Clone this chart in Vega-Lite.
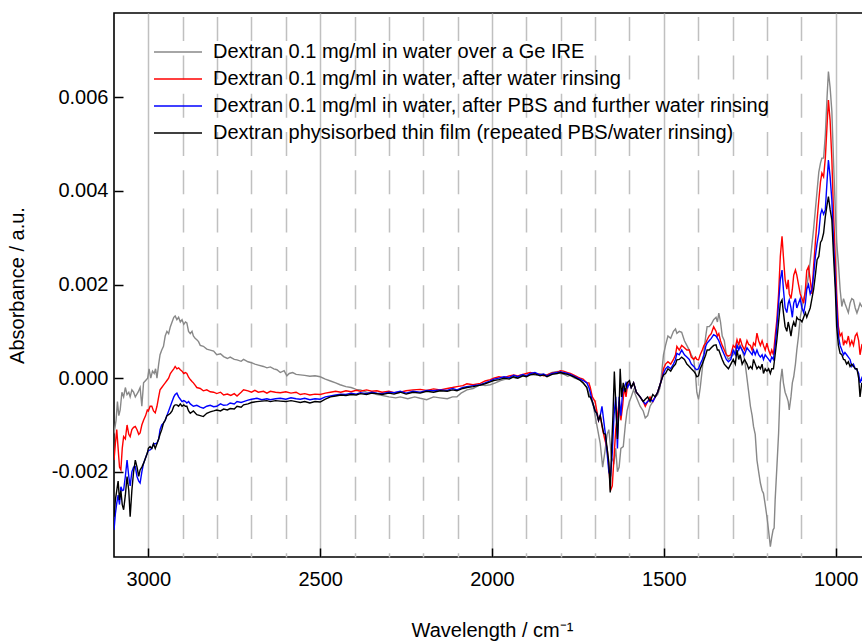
{
"$schema": "https://vega.github.io/schema/vega-lite/v6.json",
"width": 756, "height": 544,
"autosize": {"type": "none"},
"padding": {"left": 114, "top": 13, "right": 0, "bottom": 85},
"config": {"font": "Liberation Sans", "view": {"stroke": "black", "strokeWidth": 1.6}},
"data": {"values": [
{"w":3100,"s":"g","y":-0.00118},{"w":3094,"s":"g","y":-0.0009},{"w":3090,"s":"g","y":-0.0005},{"w":3086,"s":"g","y":-0.0008},{"w":3082,"s":"g","y":-0.00068},{"w":3077,"s":"g","y":-0.0003},{"w":3072,"s":"g","y":-0.0004},{"w":3067,"s":"g","y":-0.0002},{"w":3062,"s":"g","y":-0.00035},{"w":3057,"s":"g","y":-0.0003},{"w":3053,"s":"g","y":-0.0004},{"w":3048,"s":"g","y":-0.00025},{"w":3043,"s":"g","y":-0.0003},{"w":3038,"s":"g","y":-0.0004},{"w":3030,"s":"g","y":-0.0003},{"w":3024,"s":"g","y":-0.0002},{"w":3019,"s":"g","y":-0.0006},{"w":3014,"s":"g","y":-0.0001},{"w":3008,"s":"g","y":-0.00005},{"w":3002,"s":"g","y":0.0},{"w":2998,"s":"g","y":0.0002},{"w":2993,"s":"g","y":0.0},{"w":2988,"s":"g","y":0.00015},{"w":2983,"s":"g","y":0.0001},{"w":2979,"s":"g","y":0.0002},{"w":2975,"s":"g","y":0.0},{"w":2970,"s":"g","y":0.0003},{"w":2966,"s":"g","y":0.0005},{"w":2961,"s":"g","y":0.0006},{"w":2956,"s":"g","y":0.00068},{"w":2951,"s":"g","y":0.0009},{"w":2946,"s":"g","y":0.001},{"w":2941,"s":"g","y":0.00095},{"w":2936,"s":"g","y":0.0011},{"w":2931,"s":"g","y":0.0012},{"w":2926,"s":"g","y":0.0013},{"w":2922,"s":"g","y":0.00133},{"w":2917,"s":"g","y":0.00125},{"w":2912,"s":"g","y":0.0013},{"w":2907,"s":"g","y":0.0012},{"w":2902,"s":"g","y":0.00125},{"w":2897,"s":"g","y":0.00115},{"w":2892,"s":"g","y":0.0012},{"w":2888,"s":"g","y":0.00118},{"w":2883,"s":"g","y":0.001},{"w":2878,"s":"g","y":0.00095},{"w":2873,"s":"g","y":0.001},{"w":2869,"s":"g","y":0.0009},{"w":2864,"s":"g","y":0.00085},{"w":2859,"s":"g","y":0.00082},{"w":2854,"s":"g","y":0.00078},{"w":2849,"s":"g","y":0.0007},{"w":2840,"s":"g","y":0.00068},{"w":2830,"s":"g","y":0.00062},{"w":2820,"s":"g","y":0.0006},{"w":2810,"s":"g","y":0.00058},{"w":2801,"s":"g","y":0.0005},{"w":2790,"s":"g","y":0.00052},{"w":2781,"s":"g","y":0.00046},{"w":2770,"s":"g","y":0.00042},{"w":2762,"s":"g","y":0.00045},{"w":2750,"s":"g","y":0.0004},{"w":2742,"s":"g","y":0.00039},{"w":2730,"s":"g","y":0.00036},{"w":2723,"s":"g","y":0.0004},{"w":2710,"s":"g","y":0.00035},{"w":2700,"s":"g","y":0.00033},{"w":2690,"s":"g","y":0.0003},{"w":2680,"s":"g","y":0.00028},{"w":2665,"s":"g","y":0.00025},{"w":2655,"s":"g","y":0.00022},{"w":2645,"s":"g","y":0.00024},{"w":2635,"s":"g","y":0.0002},{"w":2626,"s":"g","y":0.00018},{"w":2616,"s":"g","y":0.00012},{"w":2605,"s":"g","y":0.00016},{"w":2597,"s":"g","y":0.00005},{"w":2590,"s":"g","y":0.0001},{"w":2580,"s":"g","y":0.00012},{"w":2570,"s":"g","y":0.00008},{"w":2558,"s":"g","y":0.00007},{"w":2545,"s":"g","y":0.00006},{"w":2530,"s":"g","y":0.00004},{"w":2515,"s":"g","y":0.00005},{"w":2500,"s":"g","y":0.00003},{"w":2485,"s":"g","y":-0.00002},{"w":2470,"s":"g","y":-0.00006},{"w":2455,"s":"g","y":-0.0001},{"w":2442,"s":"g","y":-0.00014},{"w":2425,"s":"g","y":-0.00018},{"w":2410,"s":"g","y":-0.0002},{"w":2395,"s":"g","y":-0.00024},{"w":2383,"s":"g","y":-0.00025},{"w":2365,"s":"g","y":-0.0003},{"w":2350,"s":"g","y":-0.00032},{"w":2335,"s":"g","y":-0.00035},{"w":2325,"s":"g","y":-0.00036},{"w":2300,"s":"g","y":-0.0004},{"w":2280,"s":"g","y":-0.00042},{"w":2267,"s":"g","y":-0.0004},{"w":2245,"s":"g","y":-0.00044},{"w":2225,"s":"g","y":-0.0004},{"w":2209,"s":"g","y":-0.00043},{"w":2190,"s":"g","y":-0.00046},{"w":2170,"s":"g","y":-0.0004},{"w":2151,"s":"g","y":-0.00042},{"w":2130,"s":"g","y":-0.00044},{"w":2115,"s":"g","y":-0.0004},{"w":2102,"s":"g","y":-0.0004},{"w":2090,"s":"g","y":-0.00032},{"w":2073,"s":"g","y":-0.00025},{"w":2055,"s":"g","y":-0.00022},{"w":2034,"s":"g","y":-0.00014},{"w":2020,"s":"g","y":-0.00016},{"w":2005,"s":"g","y":-0.00014},{"w":1990,"s":"g","y":-0.0001},{"w":1975,"s":"g","y":-0.00005},{"w":1960,"s":"g","y":-0.00002},{"w":1945,"s":"g","y":0.00003},{"w":1930,"s":"g","y":0.0},{"w":1918,"s":"g","y":0.00006},{"w":1900,"s":"g","y":0.00004},{"w":1889,"s":"g","y":0.00008},{"w":1870,"s":"g","y":0.00006},{"w":1860,"s":"g","y":0.00009},{"w":1840,"s":"g","y":0.00007},{"w":1825,"s":"g","y":0.00012},{"w":1810,"s":"g","y":0.00014},{"w":1801,"s":"g","y":0.0001},{"w":1790,"s":"g","y":0.00008},{"w":1780,"s":"g","y":0.00004},{"w":1772,"s":"g","y":0.00006},{"w":1760,"s":"g","y":0.0},{"w":1750,"s":"g","y":-0.00002},{"w":1743,"s":"g","y":-0.00004},{"w":1735,"s":"g","y":-0.0001},{"w":1724,"s":"g","y":-0.0002},{"w":1714,"s":"g","y":-0.0004},{"w":1705,"s":"g","y":-0.0006},{"w":1695,"s":"g","y":-0.001},{"w":1685,"s":"g","y":-0.0014},{"w":1678,"s":"g","y":-0.0019},{"w":1672,"s":"g","y":-0.0016},{"w":1665,"s":"g","y":-0.0012},{"w":1660,"s":"g","y":-0.0011},{"w":1652,"s":"g","y":-0.0017},{"w":1645,"s":"g","y":-0.0018},{"w":1640,"s":"g","y":-0.0015},{"w":1635,"s":"g","y":-0.002},{"w":1630,"s":"g","y":-0.0019},{"w":1625,"s":"g","y":-0.0015},{"w":1618,"s":"g","y":-0.00146},{"w":1612,"s":"g","y":-0.001},{"w":1607,"s":"g","y":-0.0007},{"w":1600,"s":"g","y":-0.0005},{"w":1595,"s":"g","y":-0.0004},{"w":1588,"s":"g","y":-0.00025},{"w":1580,"s":"g","y":-0.0004},{"w":1569,"s":"g","y":-0.0006},{"w":1560,"s":"g","y":-0.0007},{"w":1554,"s":"g","y":-0.00085},{"w":1547,"s":"g","y":-0.0008},{"w":1540,"s":"g","y":-0.0006},{"w":1532,"s":"g","y":-0.0005},{"w":1525,"s":"g","y":-0.0004},{"w":1518,"s":"g","y":-0.00035},{"w":1511,"s":"g","y":-0.0002},{"w":1505,"s":"g","y":0.0002},{"w":1501,"s":"g","y":0.0005},{"w":1495,"s":"g","y":0.0007},{"w":1488,"s":"g","y":0.0009},{"w":1480,"s":"g","y":0.00085},{"w":1472,"s":"g","y":0.001},{"w":1466,"s":"g","y":0.00105},{"w":1462,"s":"g","y":0.00096},{"w":1455,"s":"g","y":0.001},{"w":1448,"s":"g","y":0.00098},{"w":1440,"s":"g","y":0.0008},{"w":1433,"s":"g","y":0.0007},{"w":1426,"s":"g","y":0.0006},{"w":1420,"s":"g","y":0.0005},{"w":1413,"s":"g","y":0.0004},{"w":1408,"s":"g","y":0.0001},{"w":1404,"s":"g","y":-0.0003},{"w":1399,"s":"g","y":-0.00046},{"w":1394,"s":"g","y":-0.0002},{"w":1388,"s":"g","y":0.0002},{"w":1383,"s":"g","y":0.0006},{"w":1378,"s":"g","y":0.0009},{"w":1374,"s":"g","y":0.0011},{"w":1368,"s":"g","y":0.0011},{"w":1362,"s":"g","y":0.00115},{"w":1355,"s":"g","y":0.00125},{"w":1348,"s":"g","y":0.0013},{"w":1344,"s":"g","y":0.0012},{"w":1340,"s":"g","y":0.00139},{"w":1335,"s":"g","y":0.0012},{"w":1330,"s":"g","y":0.0009},{"w":1324,"s":"g","y":0.0008},{"w":1318,"s":"g","y":0.0005},{"w":1312,"s":"g","y":0.0004},{"w":1305,"s":"g","y":0.00045},{"w":1298,"s":"g","y":0.0005},{"w":1292,"s":"g","y":0.0006},{"w":1287,"s":"g","y":0.0007},{"w":1282,"s":"g","y":0.00065},{"w":1278,"s":"g","y":0.0007},{"w":1272,"s":"g","y":0.0006},{"w":1265,"s":"g","y":0.0004},{"w":1258,"s":"g","y":0.0},{"w":1253,"s":"g","y":-0.0003},{"w":1248,"s":"g","y":-0.0006},{"w":1243,"s":"g","y":-0.0008},{"w":1239,"s":"g","y":-0.00103},{"w":1234,"s":"g","y":-0.0012},{"w":1229,"s":"g","y":-0.00175},{"w":1224,"s":"g","y":-0.002},{"w":1219,"s":"g","y":-0.00224},{"w":1214,"s":"g","y":-0.0024},{"w":1210,"s":"g","y":-0.00246},{"w":1205,"s":"g","y":-0.0027},{"w":1200,"s":"g","y":-0.00296},{"w":1196,"s":"g","y":-0.0032},{"w":1193,"s":"g","y":-0.0034},{"w":1190,"s":"g","y":-0.0036},{"w":1186,"s":"g","y":-0.0034},{"w":1182,"s":"g","y":-0.00324},{"w":1179,"s":"g","y":-0.0032},{"w":1176,"s":"g","y":-0.0026},{"w":1171,"s":"g","y":-0.0019},{"w":1166,"s":"g","y":-0.00118},{"w":1161,"s":"g","y":-0.0001},{"w":1156,"s":"g","y":0.0002},{"w":1152,"s":"g","y":-0.0001},{"w":1147,"s":"g","y":-0.0003},{"w":1142,"s":"g","y":-0.0004},{"w":1138,"s":"g","y":-0.0005},{"w":1135,"s":"g","y":-0.00068},{"w":1130,"s":"g","y":-0.0004},{"w":1126,"s":"g","y":-0.0001},{"w":1122,"s":"g","y":0.00003},{"w":1117,"s":"g","y":0.0003},{"w":1113,"s":"g","y":0.0006},{"w":1108,"s":"g","y":0.0009},{"w":1103,"s":"g","y":0.0013},{"w":1093,"s":"g","y":0.0017},{"w":1085,"s":"g","y":0.0019},{"w":1079,"s":"g","y":0.0022},{"w":1074,"s":"g","y":0.0025},{"w":1064,"s":"g","y":0.0032},{"w":1059,"s":"g","y":0.0036},{"w":1054,"s":"g","y":0.004},{"w":1049,"s":"g","y":0.0044},{"w":1044,"s":"g","y":0.0046},{"w":1040,"s":"g","y":0.0047},{"w":1035,"s":"g","y":0.0047},{"w":1030,"s":"g","y":0.0052},{"w":1025,"s":"g","y":0.006},{"w":1021,"s":"g","y":0.00655},{"w":1016,"s":"g","y":0.0062},{"w":1011,"s":"g","y":0.0057},{"w":1006,"s":"g","y":0.0046},{"w":1001,"s":"g","y":0.0036},{"w":997,"s":"g","y":0.0029},{"w":992,"s":"g","y":0.00246},{"w":987,"s":"g","y":0.0019},{"w":982,"s":"g","y":0.00153},{"w":977,"s":"g","y":0.0017},{"w":973,"s":"g","y":0.0016},{"w":968,"s":"g","y":0.0015},{"w":963,"s":"g","y":0.0014},{"w":958,"s":"g","y":0.0016},{"w":953,"s":"g","y":0.0017},{"w":948,"s":"g","y":0.00167},{"w":943,"s":"g","y":0.0015},{"w":938,"s":"g","y":0.00139},{"w":933,"s":"g","y":0.0015},{"w":929,"s":"g","y":0.0016},{"w":924,"s":"g","y":0.00153},{"w":915,"s":"g","y":0.0015},{"w":905,"s":"g","y":0.0016},{"w":900,"s":"g","y":0.0015},
{"w":3100,"s":"r","y":-0.00175},{"w":3096,"s":"r","y":-0.0014},{"w":3092,"s":"r","y":-0.0011},{"w":3088,"s":"r","y":-0.0015},{"w":3084,"s":"r","y":-0.0019},{"w":3080,"s":"r","y":-0.00196},{"w":3076,"s":"r","y":-0.0015},{"w":3072,"s":"r","y":-0.00125},{"w":3067,"s":"r","y":-0.0013},{"w":3062,"s":"r","y":-0.001},{"w":3057,"s":"r","y":-0.0012},{"w":3053,"s":"r","y":-0.00125},{"w":3048,"s":"r","y":-0.0011},{"w":3043,"s":"r","y":-0.00105},{"w":3038,"s":"r","y":-0.00103},{"w":3033,"s":"r","y":-0.0011},{"w":3028,"s":"r","y":-0.0012},{"w":3024,"s":"r","y":-0.00117},{"w":3019,"s":"r","y":-0.001},{"w":3014,"s":"r","y":-0.0009},{"w":3008,"s":"r","y":-0.0008},{"w":3003,"s":"r","y":-0.00068},{"w":3000,"s":"r","y":-0.0007},{"w":2995,"s":"r","y":-0.0006},{"w":2990,"s":"r","y":-0.0006},{"w":2985,"s":"r","y":-0.0007},{"w":2980,"s":"r","y":-0.00074},{"w":2975,"s":"r","y":-0.0006},{"w":2970,"s":"r","y":-0.0004},{"w":2966,"s":"r","y":-0.00025},{"w":2961,"s":"r","y":-0.0002},{"w":2956,"s":"r","y":-0.00015},{"w":2951,"s":"r","y":-0.0001},{"w":2946,"s":"r","y":-0.00005},{"w":2941,"s":"r","y":0.0},{"w":2936,"s":"r","y":0.0001},{"w":2931,"s":"r","y":0.00015},{"w":2926,"s":"r","y":0.0002},{"w":2922,"s":"r","y":0.00025},{"w":2917,"s":"r","y":0.0002},{"w":2912,"s":"r","y":0.00022},{"w":2907,"s":"r","y":0.00018},{"w":2902,"s":"r","y":0.00015},{"w":2897,"s":"r","y":0.0001},{"w":2892,"s":"r","y":0.00012},{"w":2888,"s":"r","y":0.0001},{"w":2883,"s":"r","y":0.00002},{"w":2878,"s":"r","y":-0.00003},{"w":2873,"s":"r","y":-0.00007},{"w":2869,"s":"r","y":-0.0001},{"w":2864,"s":"r","y":-0.00015},{"w":2859,"s":"r","y":-0.0002},{"w":2854,"s":"r","y":-0.00021},{"w":2849,"s":"r","y":-0.00022},{"w":2840,"s":"r","y":-0.00027},{"w":2830,"s":"r","y":-0.00025},{"w":2820,"s":"r","y":-0.00029},{"w":2810,"s":"r","y":-0.0003},{"w":2801,"s":"r","y":-0.00033},{"w":2790,"s":"r","y":-0.0003},{"w":2781,"s":"r","y":-0.00036},{"w":2770,"s":"r","y":-0.00034},{"w":2760,"s":"r","y":-0.00037},{"w":2750,"s":"r","y":-0.00033},{"w":2742,"s":"r","y":-0.00038},{"w":2730,"s":"r","y":-0.0003},{"w":2723,"s":"r","y":-0.00025},{"w":2710,"s":"r","y":-0.00027},{"w":2700,"s":"r","y":-0.0003},{"w":2690,"s":"r","y":-0.00026},{"w":2680,"s":"r","y":-0.0003},{"w":2665,"s":"r","y":-0.00028},{"w":2655,"s":"r","y":-0.00032},{"w":2645,"s":"r","y":-0.00028},{"w":2630,"s":"r","y":-0.0003},{"w":2616,"s":"r","y":-0.00031},{"w":2600,"s":"r","y":-0.00029},{"w":2585,"s":"r","y":-0.00032},{"w":2570,"s":"r","y":-0.0003},{"w":2558,"s":"r","y":-0.00035},{"w":2545,"s":"r","y":-0.00033},{"w":2530,"s":"r","y":-0.00036},{"w":2515,"s":"r","y":-0.00034},{"w":2500,"s":"r","y":-0.00035},{"w":2485,"s":"r","y":-0.00032},{"w":2470,"s":"r","y":-0.0003},{"w":2455,"s":"r","y":-0.00028},{"w":2440,"s":"r","y":-0.0003},{"w":2425,"s":"r","y":-0.00027},{"w":2410,"s":"r","y":-0.00029},{"w":2395,"s":"r","y":-0.00026},{"w":2383,"s":"r","y":-0.00028},{"w":2365,"s":"r","y":-0.00025},{"w":2350,"s":"r","y":-0.00028},{"w":2335,"s":"r","y":-0.00027},{"w":2320,"s":"r","y":-0.0003},{"w":2300,"s":"r","y":-0.00028},{"w":2285,"s":"r","y":-0.00031},{"w":2267,"s":"r","y":-0.0003},{"w":2250,"s":"r","y":-0.00027},{"w":2230,"s":"r","y":-0.00025},{"w":2209,"s":"r","y":-0.00024},{"w":2190,"s":"r","y":-0.00026},{"w":2170,"s":"r","y":-0.00023},{"w":2151,"s":"r","y":-0.00025},{"w":2130,"s":"r","y":-0.00022},{"w":2115,"s":"r","y":-0.0002},{"w":2102,"s":"r","y":-0.00018},{"w":2085,"s":"r","y":-0.00016},{"w":2073,"s":"r","y":-0.00012},{"w":2055,"s":"r","y":-0.00014},{"w":2034,"s":"r","y":-0.00011},{"w":2020,"s":"r","y":-0.00006},{"w":2005,"s":"r","y":-0.00003},{"w":1995,"s":"r","y":0.0},{"w":1980,"s":"r","y":0.00003},{"w":1965,"s":"r","y":0.00001},{"w":1950,"s":"r","y":0.00005},{"w":1937,"s":"r","y":0.00007},{"w":1925,"s":"r","y":0.00005},{"w":1910,"s":"r","y":0.00008},{"w":1900,"s":"r","y":0.0001},{"w":1889,"s":"r","y":0.00012},{"w":1875,"s":"r","y":0.0001},{"w":1860,"s":"r","y":0.00008},{"w":1850,"s":"r","y":0.00005},{"w":1840,"s":"r","y":0.00007},{"w":1825,"s":"r","y":0.00011},{"w":1810,"s":"r","y":0.00013},{"w":1801,"s":"r","y":0.00016},{"w":1792,"s":"r","y":0.00015},{"w":1780,"s":"r","y":0.00012},{"w":1772,"s":"r","y":0.0001},{"w":1760,"s":"r","y":0.00006},{"w":1750,"s":"r","y":0.00002},{"w":1743,"s":"r","y":0.0},{"w":1735,"s":"r","y":-0.00002},{"w":1724,"s":"r","y":-0.0001},{"w":1718,"s":"r","y":-0.0001},{"w":1714,"s":"r","y":-0.0002},{"w":1708,"s":"r","y":-0.0004},{"w":1700,"s":"r","y":-0.0005},{"w":1695,"s":"r","y":-0.0007},{"w":1690,"s":"r","y":-0.0009},{"w":1685,"s":"r","y":-0.0008},{"w":1678,"s":"r","y":-0.0011},{"w":1672,"s":"r","y":-0.0013},{"w":1665,"s":"r","y":-0.0015},{"w":1660,"s":"r","y":-0.0019},{"w":1655,"s":"r","y":-0.0024},{"w":1650,"s":"r","y":-0.0023},{"w":1645,"s":"r","y":-0.0017},{"w":1640,"s":"r","y":-0.0011},{"w":1635,"s":"r","y":-0.0008},{"w":1630,"s":"r","y":-0.0005},{"w":1625,"s":"r","y":-0.0009},{"w":1620,"s":"r","y":-0.0006},{"w":1615,"s":"r","y":-0.0002},{"w":1610,"s":"r","y":-0.0004},{"w":1605,"s":"r","y":-0.0001},{"w":1600,"s":"r","y":-0.0001},{"w":1595,"s":"r","y":-0.0002},{"w":1588,"s":"r","y":-0.0001},{"w":1580,"s":"r","y":-0.0003},{"w":1569,"s":"r","y":-0.0004},{"w":1560,"s":"r","y":-0.0005},{"w":1554,"s":"r","y":-0.0006},{"w":1547,"s":"r","y":-0.0005},{"w":1540,"s":"r","y":-0.0004},{"w":1532,"s":"r","y":-0.0005},{"w":1525,"s":"r","y":-0.0004},{"w":1518,"s":"r","y":-0.0003},{"w":1511,"s":"r","y":-0.00014},{"w":1505,"s":"r","y":0.0},{"w":1501,"s":"r","y":0.0002},{"w":1495,"s":"r","y":0.0003},{"w":1488,"s":"r","y":0.00035},{"w":1480,"s":"r","y":0.0003},{"w":1472,"s":"r","y":0.0004},{"w":1466,"s":"r","y":0.0005},{"w":1462,"s":"r","y":0.00068},{"w":1455,"s":"r","y":0.0006},{"w":1448,"s":"r","y":0.0007},{"w":1440,"s":"r","y":0.00065},{"w":1433,"s":"r","y":0.0006},{"w":1426,"s":"r","y":0.0006},{"w":1420,"s":"r","y":0.00045},{"w":1413,"s":"r","y":0.0004},{"w":1408,"s":"r","y":0.00045},{"w":1404,"s":"r","y":0.0004},{"w":1399,"s":"r","y":0.00039},{"w":1394,"s":"r","y":0.0005},{"w":1388,"s":"r","y":0.0006},{"w":1383,"s":"r","y":0.0007},{"w":1378,"s":"r","y":0.00075},{"w":1374,"s":"r","y":0.00082},{"w":1368,"s":"r","y":0.0009},{"w":1362,"s":"r","y":0.00095},{"w":1355,"s":"r","y":0.0011},{"w":1348,"s":"r","y":0.001},{"w":1344,"s":"r","y":0.0009},{"w":1340,"s":"r","y":0.00095},{"w":1335,"s":"r","y":0.0008},{"w":1330,"s":"r","y":0.0007},{"w":1324,"s":"r","y":0.0006},{"w":1318,"s":"r","y":0.0005},{"w":1312,"s":"r","y":0.00047},{"w":1305,"s":"r","y":0.0005},{"w":1298,"s":"r","y":0.0007},{"w":1292,"s":"r","y":0.00065},{"w":1287,"s":"r","y":0.00082},{"w":1282,"s":"r","y":0.0007},{"w":1278,"s":"r","y":0.00085},{"w":1272,"s":"r","y":0.0007},{"w":1265,"s":"r","y":0.0006},{"w":1258,"s":"r","y":0.0008},{"w":1253,"s":"r","y":0.00072},{"w":1248,"s":"r","y":0.0007},{"w":1243,"s":"r","y":0.0006},{"w":1239,"s":"r","y":0.00075},{"w":1234,"s":"r","y":0.0007},{"w":1229,"s":"r","y":0.00096},{"w":1224,"s":"r","y":0.0008},{"w":1219,"s":"r","y":0.0007},{"w":1214,"s":"r","y":0.0008},{"w":1210,"s":"r","y":0.0007},{"w":1205,"s":"r","y":0.0006},{"w":1200,"s":"r","y":0.00075},{"w":1195,"s":"r","y":0.0006},{"w":1190,"s":"r","y":0.0005},{"w":1186,"s":"r","y":0.0006},{"w":1181,"s":"r","y":0.0005},{"w":1176,"s":"r","y":0.0009},{"w":1171,"s":"r","y":0.00125},{"w":1166,"s":"r","y":0.0018},{"w":1161,"s":"r","y":0.0026},{"w":1156,"s":"r","y":0.00303},{"w":1152,"s":"r","y":0.0026},{"w":1147,"s":"r","y":0.0021},{"w":1142,"s":"r","y":0.0019},{"w":1138,"s":"r","y":0.0021},{"w":1135,"s":"r","y":0.0018},{"w":1130,"s":"r","y":0.0017},{"w":1126,"s":"r","y":0.0019},{"w":1122,"s":"r","y":0.0022},{"w":1117,"s":"r","y":0.00231},{"w":1113,"s":"r","y":0.0022},{"w":1108,"s":"r","y":0.002},{"w":1103,"s":"r","y":0.0018},{"w":1098,"s":"r","y":0.0017},{"w":1093,"s":"r","y":0.0016},{"w":1088,"s":"r","y":0.0019},{"w":1084,"s":"r","y":0.0023},{"w":1079,"s":"r","y":0.00238},{"w":1074,"s":"r","y":0.0021},{"w":1069,"s":"r","y":0.0018},{"w":1064,"s":"r","y":0.0024},{"w":1059,"s":"r","y":0.0029},{"w":1054,"s":"r","y":0.00338},{"w":1049,"s":"r","y":0.0038},{"w":1044,"s":"r","y":0.0042},{"w":1040,"s":"r","y":0.00438},{"w":1035,"s":"r","y":0.0043},{"w":1030,"s":"r","y":0.0047},{"w":1025,"s":"r","y":0.0054},{"w":1021,"s":"r","y":0.00594},{"w":1016,"s":"r","y":0.0055},{"w":1011,"s":"r","y":0.00466},{"w":1006,"s":"r","y":0.0035},{"w":1001,"s":"r","y":0.00253},{"w":997,"s":"r","y":0.0018},{"w":992,"s":"r","y":0.0011},{"w":987,"s":"r","y":0.0009},{"w":982,"s":"r","y":0.00096},{"w":977,"s":"r","y":0.0007},{"w":973,"s":"r","y":0.0008},{"w":968,"s":"r","y":0.00075},{"w":963,"s":"r","y":0.0009},{"w":958,"s":"r","y":0.0007},{"w":953,"s":"r","y":0.0008},{"w":948,"s":"r","y":0.0007},{"w":943,"s":"r","y":0.0009},{"w":938,"s":"r","y":0.00096},{"w":933,"s":"r","y":0.0008},{"w":929,"s":"r","y":0.0005},{"w":924,"s":"r","y":0.0007},{"w":915,"s":"r","y":0.0006},{"w":900,"s":"r","y":0.0007},
{"w":3100,"s":"b","y":-0.00324},{"w":3096,"s":"b","y":-0.0029},{"w":3092,"s":"b","y":-0.00267},{"w":3088,"s":"b","y":-0.0025},{"w":3084,"s":"b","y":-0.0027},{"w":3080,"s":"b","y":-0.00232},{"w":3076,"s":"b","y":-0.0024},{"w":3072,"s":"b","y":-0.00239},{"w":3067,"s":"b","y":-0.0021},{"w":3062,"s":"b","y":-0.00175},{"w":3057,"s":"b","y":-0.0021},{"w":3053,"s":"b","y":-0.0023},{"w":3048,"s":"b","y":-0.002},{"w":3043,"s":"b","y":-0.0019},{"w":3038,"s":"b","y":-0.00189},{"w":3033,"s":"b","y":-0.0021},{"w":3028,"s":"b","y":-0.0022},{"w":3024,"s":"b","y":-0.00224},{"w":3019,"s":"b","y":-0.002},{"w":3014,"s":"b","y":-0.00182},{"w":3008,"s":"b","y":-0.0017},{"w":3003,"s":"b","y":-0.0016},{"w":3000,"s":"b","y":-0.00155},{"w":2995,"s":"b","y":-0.00153},{"w":2990,"s":"b","y":-0.0015},{"w":2985,"s":"b","y":-0.0014},{"w":2980,"s":"b","y":-0.0014},{"w":2975,"s":"b","y":-0.00139},{"w":2970,"s":"b","y":-0.0013},{"w":2966,"s":"b","y":-0.0011},{"w":2961,"s":"b","y":-0.001},{"w":2956,"s":"b","y":-0.00096},{"w":2951,"s":"b","y":-0.0009},{"w":2946,"s":"b","y":-0.0008},{"w":2941,"s":"b","y":-0.0007},{"w":2936,"s":"b","y":-0.0006},{"w":2931,"s":"b","y":-0.0005},{"w":2926,"s":"b","y":-0.0004},{"w":2922,"s":"b","y":-0.00035},{"w":2917,"s":"b","y":-0.00032},{"w":2912,"s":"b","y":-0.0004},{"w":2907,"s":"b","y":-0.00045},{"w":2902,"s":"b","y":-0.0005},{"w":2897,"s":"b","y":-0.00048},{"w":2892,"s":"b","y":-0.0005},{"w":2888,"s":"b","y":-0.00053},{"w":2883,"s":"b","y":-0.0005},{"w":2878,"s":"b","y":-0.00055},{"w":2869,"s":"b","y":-0.0006},{"w":2859,"s":"b","y":-0.00058},{"w":2849,"s":"b","y":-0.00062},{"w":2840,"s":"b","y":-0.00064},{"w":2830,"s":"b","y":-0.0006},{"w":2820,"s":"b","y":-0.00058},{"w":2810,"s":"b","y":-0.00061},{"w":2801,"s":"b","y":-0.0006},{"w":2790,"s":"b","y":-0.00055},{"w":2781,"s":"b","y":-0.00058},{"w":2770,"s":"b","y":-0.00057},{"w":2762,"s":"b","y":-0.00053},{"w":2750,"s":"b","y":-0.00055},{"w":2742,"s":"b","y":-0.0005},{"w":2730,"s":"b","y":-0.00052},{"w":2723,"s":"b","y":-0.0005},{"w":2710,"s":"b","y":-0.00047},{"w":2700,"s":"b","y":-0.00045},{"w":2684,"s":"b","y":-0.00043},{"w":2670,"s":"b","y":-0.00046},{"w":2655,"s":"b","y":-0.00044},{"w":2645,"s":"b","y":-0.00046},{"w":2630,"s":"b","y":-0.00044},{"w":2616,"s":"b","y":-0.00043},{"w":2600,"s":"b","y":-0.00045},{"w":2585,"s":"b","y":-0.00042},{"w":2570,"s":"b","y":-0.00044},{"w":2558,"s":"b","y":-0.00045},{"w":2545,"s":"b","y":-0.00043},{"w":2530,"s":"b","y":-0.00046},{"w":2515,"s":"b","y":-0.00044},{"w":2500,"s":"b","y":-0.00045},{"w":2485,"s":"b","y":-0.0004},{"w":2470,"s":"b","y":-0.00038},{"w":2455,"s":"b","y":-0.00036},{"w":2440,"s":"b","y":-0.00034},{"w":2425,"s":"b","y":-0.00035},{"w":2410,"s":"b","y":-0.00032},{"w":2395,"s":"b","y":-0.00034},{"w":2383,"s":"b","y":-0.00031},{"w":2365,"s":"b","y":-0.00033},{"w":2350,"s":"b","y":-0.0003},{"w":2335,"s":"b","y":-0.00032},{"w":2320,"s":"b","y":-0.00033},{"w":2300,"s":"b","y":-0.0003},{"w":2285,"s":"b","y":-0.00031},{"w":2267,"s":"b","y":-0.00028},{"w":2250,"s":"b","y":-0.00032},{"w":2230,"s":"b","y":-0.00028},{"w":2209,"s":"b","y":-0.0003},{"w":2190,"s":"b","y":-0.00026},{"w":2170,"s":"b","y":-0.00027},{"w":2151,"s":"b","y":-0.00025},{"w":2130,"s":"b","y":-0.00026},{"w":2115,"s":"b","y":-0.00022},{"w":2102,"s":"b","y":-0.00025},{"w":2085,"s":"b","y":-0.0002},{"w":2073,"s":"b","y":-0.00018},{"w":2055,"s":"b","y":-0.00016},{"w":2034,"s":"b","y":-0.00014},{"w":2020,"s":"b","y":-0.0001},{"w":2005,"s":"b","y":-0.00006},{"w":1995,"s":"b","y":-0.00002},{"w":1980,"s":"b","y":0.0},{"w":1965,"s":"b","y":0.00003},{"w":1950,"s":"b","y":0.00001},{"w":1937,"s":"b","y":0.00006},{"w":1925,"s":"b","y":0.00003},{"w":1910,"s":"b","y":0.00008},{"w":1900,"s":"b","y":0.00005},{"w":1889,"s":"b","y":0.0001},{"w":1875,"s":"b","y":0.00012},{"w":1860,"s":"b","y":0.00007},{"w":1850,"s":"b","y":0.00009},{"w":1840,"s":"b","y":0.00005},{"w":1825,"s":"b","y":0.0001},{"w":1810,"s":"b","y":0.00012},{"w":1801,"s":"b","y":0.00014},{"w":1792,"s":"b","y":0.00012},{"w":1780,"s":"b","y":0.0001},{"w":1772,"s":"b","y":0.00008},{"w":1760,"s":"b","y":0.00004},{"w":1750,"s":"b","y":0.0},{"w":1743,"s":"b","y":-0.00002},{"w":1735,"s":"b","y":-0.00005},{"w":1724,"s":"b","y":-0.0001},{"w":1718,"s":"b","y":-0.0002},{"w":1714,"s":"b","y":-0.0003},{"w":1708,"s":"b","y":-0.0005},{"w":1700,"s":"b","y":-0.0007},{"w":1695,"s":"b","y":-0.00075},{"w":1690,"s":"b","y":-0.0009},{"w":1685,"s":"b","y":-0.0008},{"w":1680,"s":"b","y":-0.0006},{"w":1675,"s":"b","y":-0.0009},{"w":1670,"s":"b","y":-0.0012},{"w":1665,"s":"b","y":-0.0016},{"w":1660,"s":"b","y":-0.002},{"w":1655,"s":"b","y":-0.0021},{"w":1650,"s":"b","y":-0.0016},{"w":1645,"s":"b","y":-0.0008},{"w":1640,"s":"b","y":-0.0004},{"w":1635,"s":"b","y":-0.0015},{"w":1630,"s":"b","y":-0.0004},{"w":1625,"s":"b","y":-0.0008},{"w":1620,"s":"b","y":-0.0003},{"w":1615,"s":"b","y":-0.0002},{"w":1610,"s":"b","y":-0.0001},{"w":1605,"s":"b","y":-0.0002},{"w":1600,"s":"b","y":-0.0001},{"w":1595,"s":"b","y":-0.0002},{"w":1588,"s":"b","y":-0.0001},{"w":1580,"s":"b","y":-0.0003},{"w":1569,"s":"b","y":-0.0004},{"w":1560,"s":"b","y":-0.0005},{"w":1554,"s":"b","y":-0.00055},{"w":1547,"s":"b","y":-0.0005},{"w":1540,"s":"b","y":-0.00046},{"w":1532,"s":"b","y":-0.0005},{"w":1525,"s":"b","y":-0.0004},{"w":1518,"s":"b","y":-0.0003},{"w":1511,"s":"b","y":-0.00014},{"w":1505,"s":"b","y":0.0},{"w":1501,"s":"b","y":0.0001},{"w":1495,"s":"b","y":0.0002},{"w":1488,"s":"b","y":0.00025},{"w":1480,"s":"b","y":0.0002},{"w":1472,"s":"b","y":0.0003},{"w":1466,"s":"b","y":0.0004},{"w":1462,"s":"b","y":0.00053},{"w":1455,"s":"b","y":0.0005},{"w":1448,"s":"b","y":0.0006},{"w":1440,"s":"b","y":0.0005},{"w":1433,"s":"b","y":0.00045},{"w":1426,"s":"b","y":0.0004},{"w":1420,"s":"b","y":0.0003},{"w":1413,"s":"b","y":0.00025},{"w":1408,"s":"b","y":0.0002},{"w":1404,"s":"b","y":0.00018},{"w":1399,"s":"b","y":0.0002},{"w":1394,"s":"b","y":0.0003},{"w":1388,"s":"b","y":0.0004},{"w":1383,"s":"b","y":0.0005},{"w":1378,"s":"b","y":0.00068},{"w":1374,"s":"b","y":0.00075},{"w":1368,"s":"b","y":0.0008},{"w":1362,"s":"b","y":0.00085},{"w":1355,"s":"b","y":0.00093},{"w":1348,"s":"b","y":0.0009},{"w":1344,"s":"b","y":0.00085},{"w":1340,"s":"b","y":0.0008},{"w":1335,"s":"b","y":0.0007},{"w":1330,"s":"b","y":0.0006},{"w":1324,"s":"b","y":0.0005},{"w":1318,"s":"b","y":0.0004},{"w":1312,"s":"b","y":0.00035},{"w":1305,"s":"b","y":0.0004},{"w":1298,"s":"b","y":0.0006},{"w":1292,"s":"b","y":0.0005},{"w":1287,"s":"b","y":0.0007},{"w":1282,"s":"b","y":0.0006},{"w":1278,"s":"b","y":0.00068},{"w":1272,"s":"b","y":0.0006},{"w":1265,"s":"b","y":0.0005},{"w":1258,"s":"b","y":0.00065},{"w":1253,"s":"b","y":0.0006},{"w":1248,"s":"b","y":0.00055},{"w":1243,"s":"b","y":0.0005},{"w":1239,"s":"b","y":0.0006},{"w":1234,"s":"b","y":0.0005},{"w":1229,"s":"b","y":0.0006},{"w":1224,"s":"b","y":0.0005},{"w":1219,"s":"b","y":0.00045},{"w":1214,"s":"b","y":0.0005},{"w":1210,"s":"b","y":0.0004},{"w":1205,"s":"b","y":0.0005},{"w":1200,"s":"b","y":0.00045},{"w":1195,"s":"b","y":0.0004},{"w":1190,"s":"b","y":0.00035},{"w":1186,"s":"b","y":0.00045},{"w":1181,"s":"b","y":0.0004},{"w":1176,"s":"b","y":0.0007},{"w":1171,"s":"b","y":0.0011},{"w":1166,"s":"b","y":0.0016},{"w":1161,"s":"b","y":0.0021},{"w":1156,"s":"b","y":0.00231},{"w":1152,"s":"b","y":0.0019},{"w":1147,"s":"b","y":0.0015},{"w":1142,"s":"b","y":0.0014},{"w":1138,"s":"b","y":0.0016},{"w":1135,"s":"b","y":0.00167},{"w":1130,"s":"b","y":0.0015},{"w":1126,"s":"b","y":0.0013},{"w":1122,"s":"b","y":0.0016},{"w":1117,"s":"b","y":0.0017},{"w":1113,"s":"b","y":0.0015},{"w":1108,"s":"b","y":0.0016},{"w":1103,"s":"b","y":0.0017},{"w":1098,"s":"b","y":0.0015},{"w":1093,"s":"b","y":0.0014},{"w":1088,"s":"b","y":0.0016},{"w":1084,"s":"b","y":0.0019},{"w":1079,"s":"b","y":0.002},{"w":1074,"s":"b","y":0.0018},{"w":1069,"s":"b","y":0.0019},{"w":1064,"s":"b","y":0.0022},{"w":1059,"s":"b","y":0.0026},{"w":1054,"s":"b","y":0.00288},{"w":1049,"s":"b","y":0.0031},{"w":1044,"s":"b","y":0.0035},{"w":1040,"s":"b","y":0.0036},{"w":1035,"s":"b","y":0.0035},{"w":1030,"s":"b","y":0.0036},{"w":1025,"s":"b","y":0.0042},{"w":1021,"s":"b","y":0.00466},{"w":1016,"s":"b","y":0.0043},{"w":1011,"s":"b","y":0.0038},{"w":1006,"s":"b","y":0.0029},{"w":1001,"s":"b","y":0.0021},{"w":997,"s":"b","y":0.00153},{"w":992,"s":"b","y":0.0009},{"w":987,"s":"b","y":0.0007},{"w":982,"s":"b","y":0.0006},{"w":977,"s":"b","y":0.0005},{"w":973,"s":"b","y":0.00055},{"w":968,"s":"b","y":0.0005},{"w":963,"s":"b","y":0.00045},{"w":958,"s":"b","y":0.0004},{"w":953,"s":"b","y":0.00025},{"w":948,"s":"b","y":0.0003},{"w":943,"s":"b","y":0.0002},{"w":938,"s":"b","y":0.00018},{"w":933,"s":"b","y":0.0001},{"w":929,"s":"b","y":-0.0001},{"w":924,"s":"b","y":0.0},{"w":915,"s":"b","y":-0.0002},{"w":900,"s":"b","y":-0.0001},
{"w":3100,"s":"k","y":-0.00296},{"w":3096,"s":"k","y":-0.0026},{"w":3092,"s":"k","y":-0.0024},{"w":3088,"s":"k","y":-0.0022},{"w":3084,"s":"k","y":-0.0026},{"w":3080,"s":"k","y":-0.0024},{"w":3076,"s":"k","y":-0.0027},{"w":3072,"s":"k","y":-0.00281},{"w":3067,"s":"k","y":-0.0025},{"w":3062,"s":"k","y":-0.0021},{"w":3057,"s":"k","y":-0.0024},{"w":3053,"s":"k","y":-0.00296},{"w":3048,"s":"k","y":-0.0024},{"w":3043,"s":"k","y":-0.002},{"w":3038,"s":"k","y":-0.00175},{"w":3033,"s":"k","y":-0.0019},{"w":3028,"s":"k","y":-0.0021},{"w":3024,"s":"k","y":-0.00196},{"w":3019,"s":"k","y":-0.0019},{"w":3014,"s":"k","y":-0.00182},{"w":3008,"s":"k","y":-0.0017},{"w":3003,"s":"k","y":-0.0016},{"w":3000,"s":"k","y":-0.0015},{"w":2995,"s":"k","y":-0.00146},{"w":2990,"s":"k","y":-0.0015},{"w":2985,"s":"k","y":-0.0014},{"w":2980,"s":"k","y":-0.0015},{"w":2975,"s":"k","y":-0.0014},{"w":2970,"s":"k","y":-0.0013},{"w":2966,"s":"k","y":-0.0012},{"w":2961,"s":"k","y":-0.0011},{"w":2956,"s":"k","y":-0.00096},{"w":2951,"s":"k","y":-0.0009},{"w":2946,"s":"k","y":-0.0008},{"w":2941,"s":"k","y":-0.00078},{"w":2936,"s":"k","y":-0.00075},{"w":2931,"s":"k","y":-0.0007},{"w":2926,"s":"k","y":-0.0006},{"w":2922,"s":"k","y":-0.00057},{"w":2917,"s":"k","y":-0.00057},{"w":2912,"s":"k","y":-0.0006},{"w":2907,"s":"k","y":-0.00055},{"w":2902,"s":"k","y":-0.0006},{"w":2897,"s":"k","y":-0.00057},{"w":2892,"s":"k","y":-0.0006},{"w":2888,"s":"k","y":-0.0006},{"w":2883,"s":"k","y":-0.0007},{"w":2878,"s":"k","y":-0.00075},{"w":2869,"s":"k","y":-0.0007},{"w":2859,"s":"k","y":-0.00078},{"w":2849,"s":"k","y":-0.0008},{"w":2840,"s":"k","y":-0.00082},{"w":2830,"s":"k","y":-0.00075},{"w":2820,"s":"k","y":-0.00072},{"w":2810,"s":"k","y":-0.0007},{"w":2801,"s":"k","y":-0.00068},{"w":2790,"s":"k","y":-0.0007},{"w":2781,"s":"k","y":-0.00066},{"w":2770,"s":"k","y":-0.00068},{"w":2762,"s":"k","y":-0.00065},{"w":2750,"s":"k","y":-0.00066},{"w":2742,"s":"k","y":-0.0006},{"w":2730,"s":"k","y":-0.00062},{"w":2723,"s":"k","y":-0.00057},{"w":2710,"s":"k","y":-0.00055},{"w":2700,"s":"k","y":-0.00052},{"w":2684,"s":"k","y":-0.0005},{"w":2670,"s":"k","y":-0.00049},{"w":2655,"s":"k","y":-0.00048},{"w":2645,"s":"k","y":-0.0005},{"w":2630,"s":"k","y":-0.00048},{"w":2616,"s":"k","y":-0.00049},{"w":2600,"s":"k","y":-0.0005},{"w":2585,"s":"k","y":-0.00048},{"w":2570,"s":"k","y":-0.0005},{"w":2558,"s":"k","y":-0.00052},{"w":2545,"s":"k","y":-0.0005},{"w":2530,"s":"k","y":-0.00053},{"w":2515,"s":"k","y":-0.0005},{"w":2500,"s":"k","y":-0.00051},{"w":2485,"s":"k","y":-0.00045},{"w":2470,"s":"k","y":-0.0004},{"w":2455,"s":"k","y":-0.00038},{"w":2440,"s":"k","y":-0.00036},{"w":2425,"s":"k","y":-0.00037},{"w":2410,"s":"k","y":-0.00035},{"w":2395,"s":"k","y":-0.00036},{"w":2383,"s":"k","y":-0.00033},{"w":2365,"s":"k","y":-0.00035},{"w":2350,"s":"k","y":-0.00032},{"w":2335,"s":"k","y":-0.00033},{"w":2320,"s":"k","y":-0.00035},{"w":2300,"s":"k","y":-0.00032},{"w":2285,"s":"k","y":-0.00034},{"w":2267,"s":"k","y":-0.0003},{"w":2250,"s":"k","y":-0.00034},{"w":2230,"s":"k","y":-0.0003},{"w":2209,"s":"k","y":-0.00032},{"w":2190,"s":"k","y":-0.00028},{"w":2170,"s":"k","y":-0.0003},{"w":2151,"s":"k","y":-0.00027},{"w":2130,"s":"k","y":-0.00028},{"w":2115,"s":"k","y":-0.00025},{"w":2102,"s":"k","y":-0.00027},{"w":2085,"s":"k","y":-0.00022},{"w":2073,"s":"k","y":-0.0002},{"w":2055,"s":"k","y":-0.00018},{"w":2034,"s":"k","y":-0.00015},{"w":2020,"s":"k","y":-0.00012},{"w":2005,"s":"k","y":-0.00008},{"w":1995,"s":"k","y":-0.00005},{"w":1980,"s":"k","y":-0.00003},{"w":1965,"s":"k","y":0.0},{"w":1950,"s":"k","y":-0.00002},{"w":1937,"s":"k","y":0.00003},{"w":1925,"s":"k","y":0.0},{"w":1910,"s":"k","y":0.00005},{"w":1900,"s":"k","y":0.00003},{"w":1889,"s":"k","y":0.00007},{"w":1875,"s":"k","y":0.00009},{"w":1860,"s":"k","y":0.00005},{"w":1850,"s":"k","y":0.00007},{"w":1840,"s":"k","y":0.00003},{"w":1825,"s":"k","y":0.00008},{"w":1810,"s":"k","y":0.0001},{"w":1801,"s":"k","y":0.00012},{"w":1792,"s":"k","y":0.0001},{"w":1780,"s":"k","y":0.00008},{"w":1772,"s":"k","y":0.00006},{"w":1760,"s":"k","y":0.00002},{"w":1750,"s":"k","y":-0.00002},{"w":1743,"s":"k","y":-0.00005},{"w":1735,"s":"k","y":-0.0001},{"w":1724,"s":"k","y":-0.0002},{"w":1718,"s":"k","y":-0.0004},{"w":1714,"s":"k","y":-0.0004},{"w":1708,"s":"k","y":-0.0005},{"w":1700,"s":"k","y":-0.0007},{"w":1695,"s":"k","y":-0.00075},{"w":1690,"s":"k","y":-0.0009},{"w":1685,"s":"k","y":-0.0008},{"w":1680,"s":"k","y":-0.001},{"w":1675,"s":"k","y":-0.00118},{"w":1670,"s":"k","y":-0.0012},{"w":1665,"s":"k","y":-0.0015},{"w":1660,"s":"k","y":-0.0018},{"w":1656,"s":"k","y":-0.00244},{"w":1652,"s":"k","y":-0.0015},{"w":1648,"s":"k","y":-0.0008},{"w":1644,"s":"k","y":0.00014},{"w":1640,"s":"k","y":-0.0005},{"w":1635,"s":"k","y":-0.0013},{"w":1630,"s":"k","y":-0.0006},{"w":1627,"s":"k","y":0.0002},{"w":1623,"s":"k","y":-0.0004},{"w":1618,"s":"k","y":-0.0001},{"w":1612,"s":"k","y":-0.0003},{"w":1607,"s":"k","y":-0.0001},{"w":1600,"s":"k","y":-0.00005},{"w":1595,"s":"k","y":-0.0002},{"w":1588,"s":"k","y":-0.0001},{"w":1580,"s":"k","y":-0.0003},{"w":1569,"s":"k","y":-0.0004},{"w":1560,"s":"k","y":-0.0005},{"w":1554,"s":"k","y":-0.00045},{"w":1547,"s":"k","y":-0.0004},{"w":1540,"s":"k","y":-0.0005},{"w":1532,"s":"k","y":-0.00035},{"w":1525,"s":"k","y":-0.0004},{"w":1518,"s":"k","y":-0.0003},{"w":1511,"s":"k","y":-0.00014},{"w":1505,"s":"k","y":0.0},{"w":1501,"s":"k","y":0.00007},{"w":1495,"s":"k","y":0.0001},{"w":1488,"s":"k","y":0.0002},{"w":1480,"s":"k","y":0.00015},{"w":1472,"s":"k","y":0.00025},{"w":1466,"s":"k","y":0.0003},{"w":1462,"s":"k","y":0.00039},{"w":1455,"s":"k","y":0.0004},{"w":1448,"s":"k","y":0.00045},{"w":1440,"s":"k","y":0.0004},{"w":1433,"s":"k","y":0.0003},{"w":1426,"s":"k","y":0.00025},{"w":1420,"s":"k","y":0.0002},{"w":1413,"s":"k","y":0.00015},{"w":1408,"s":"k","y":0.0001},{"w":1404,"s":"k","y":0.00003},{"w":1399,"s":"k","y":0.00005},{"w":1394,"s":"k","y":0.0002},{"w":1388,"s":"k","y":0.0003},{"w":1383,"s":"k","y":0.0004},{"w":1378,"s":"k","y":0.0005},{"w":1374,"s":"k","y":0.0006},{"w":1368,"s":"k","y":0.0006},{"w":1362,"s":"k","y":0.00065},{"w":1355,"s":"k","y":0.0007},{"w":1348,"s":"k","y":0.00071},{"w":1344,"s":"k","y":0.0006},{"w":1340,"s":"k","y":0.0006},{"w":1335,"s":"k","y":0.0005},{"w":1330,"s":"k","y":0.0004},{"w":1324,"s":"k","y":0.0003},{"w":1318,"s":"k","y":0.00025},{"w":1312,"s":"k","y":0.0002},{"w":1305,"s":"k","y":0.0003},{"w":1298,"s":"k","y":0.0004},{"w":1292,"s":"k","y":0.0003},{"w":1287,"s":"k","y":0.0006},{"w":1282,"s":"k","y":0.0004},{"w":1278,"s":"k","y":0.0005},{"w":1272,"s":"k","y":0.0003},{"w":1265,"s":"k","y":0.0004},{"w":1258,"s":"k","y":0.0003},{"w":1253,"s":"k","y":0.0002},{"w":1248,"s":"k","y":0.00025},{"w":1243,"s":"k","y":0.0002},{"w":1239,"s":"k","y":0.0004},{"w":1234,"s":"k","y":0.0003},{"w":1229,"s":"k","y":0.0002},{"w":1224,"s":"k","y":0.00025},{"w":1219,"s":"k","y":0.0002},{"w":1214,"s":"k","y":0.0003},{"w":1210,"s":"k","y":0.0001},{"w":1205,"s":"k","y":0.0002},{"w":1200,"s":"k","y":0.00015},{"w":1195,"s":"k","y":0.0002},{"w":1190,"s":"k","y":0.0001},{"w":1186,"s":"k","y":0.0002},{"w":1181,"s":"k","y":0.0002},{"w":1176,"s":"k","y":0.0005},{"w":1171,"s":"k","y":0.00082},{"w":1166,"s":"k","y":0.0012},{"w":1161,"s":"k","y":0.0016},{"w":1156,"s":"k","y":0.00167},{"w":1152,"s":"k","y":0.0014},{"w":1147,"s":"k","y":0.0011},{"w":1142,"s":"k","y":0.001},{"w":1138,"s":"k","y":0.0012},{"w":1135,"s":"k","y":0.0011},{"w":1130,"s":"k","y":0.0009},{"w":1126,"s":"k","y":0.0011},{"w":1122,"s":"k","y":0.0012},{"w":1117,"s":"k","y":0.0011},{"w":1113,"s":"k","y":0.0013},{"w":1108,"s":"k","y":0.00125},{"w":1103,"s":"k","y":0.00125},{"w":1098,"s":"k","y":0.0012},{"w":1093,"s":"k","y":0.0013},{"w":1088,"s":"k","y":0.0014},{"w":1084,"s":"k","y":0.0013},{"w":1079,"s":"k","y":0.0014},{"w":1074,"s":"k","y":0.0015},{"w":1069,"s":"k","y":0.0017},{"w":1064,"s":"k","y":0.0019},{"w":1059,"s":"k","y":0.0022},{"w":1054,"s":"k","y":0.00253},{"w":1049,"s":"k","y":0.0026},{"w":1044,"s":"k","y":0.0029},{"w":1040,"s":"k","y":0.00295},{"w":1035,"s":"k","y":0.0031},{"w":1030,"s":"k","y":0.00345},{"w":1025,"s":"k","y":0.0037},{"w":1021,"s":"k","y":0.00388},{"w":1016,"s":"k","y":0.0036},{"w":1011,"s":"k","y":0.00338},{"w":1006,"s":"k","y":0.0026},{"w":1001,"s":"k","y":0.0019},{"w":997,"s":"k","y":0.0011},{"w":992,"s":"k","y":0.0007},{"w":987,"s":"k","y":0.00053},{"w":982,"s":"k","y":0.0005},{"w":977,"s":"k","y":0.0004},{"w":973,"s":"k","y":0.00039},{"w":968,"s":"k","y":0.0003},{"w":963,"s":"k","y":0.00035},{"w":958,"s":"k","y":0.00025},{"w":953,"s":"k","y":0.0003},{"w":948,"s":"k","y":0.00025},{"w":943,"s":"k","y":0.0002},{"w":938,"s":"k","y":0.0002},{"w":933,"s":"k","y":0.0},{"w":929,"s":"k","y":-0.0004},{"w":924,"s":"k","y":-0.0001},{"w":915,"s":"k","y":-0.0003},{"w":900,"s":"k","y":-0.0002}
]},
"mark": {"type": "line", "strokeWidth": 1.4, "clip": true},
"encoding": {
"x": {"field": "w", "type": "quantitative",
 "scale": {"domain": [3100, 900], "nice": false, "zero": false},
 "axis": {"values": [1000,1100,1200,1300,1400,1500,1600,1700,1800,1900,2000,2100,2200,2300,2400,2500,2600,2700,2800,2900,3000],
  "labelExpr": "datum.value % 500 === 0 ? datum.label : ''", "format": "d", "labelOverlap": false,
  "labelFontSize": 20, "labelColor": "black", "labelPadding": 21,
  "grid": true, "gridColor": "#c0c0c0", "gridWidth": 1.5,
  "gridDash": {"condition": {"test": "datum.value % 500 === 0", "value": []}, "value": [24, 14.3]},
  "gridDashOffset": 34.7,
  "ticks": true, "tickSize": -9, "tickColor": "black", "tickWidth": 1.5,
  "tickOpacity": {"condition": {"test": "datum.value % 500 === 0", "value": 1}, "value": 0},
  "domain": false,
  "title": "Wavelength / cm⁻¹", "titleFontSize": 20, "titleFontWeight": "normal", "titleColor": "black",
  "titleX": 378, "titleY": 79, "titleBaseline": "alphabetic", "titleAlign": "center"}},
"y": {"field": "y", "type": "quantitative",
 "scale": {"domain": [-0.00382, 0.0078], "nice": false, "zero": false},
 "axis": {"values": [-0.002, 0, 0.002, 0.004, 0.006], "format": ".3f",
  "labelExpr": "replace(datum.label, '−', '-')",
  "labelFontSize": 20, "labelColor": "black", "labelPadding": 15,
  "grid": false, "ticks": true, "tickSize": -9, "tickColor": "black", "tickWidth": 1.5,
  "domain": false,
  "title": "Absorbance / a.u.", "titleFontSize": 20, "titleFontWeight": "normal", "titleColor": "black",
  "titleX": -87, "titleY": 272}},
"color": {"field": "s", "type": "nominal",
 "scale": {"domain": ["g","r","b","k"], "range": ["#888888","#ff0000","#0000ff","#000000"]},
 "legend": {"orient": "none", "legendX": 39, "legendY": 29, "title": null, "padding": 0,
  "symbolType": "M-1,0H1", "symbolSize": 2304, "symbolStrokeWidth": 1.5,
  "clipHeight": 20,
  "labelFontSize": 20, "labelColor": "black", "labelOffset": 10, "rowPadding": 7,
  "labelLimit": 800,
  "labelExpr": "datum.value == 'g' ? 'Dextran 0.1 mg/ml in water over a Ge IRE' : datum.value == 'r' ? 'Dextran 0.1 mg/ml in water, after water rinsing' : datum.value == 'b' ? 'Dextran 0.1 mg/ml in water, after PBS and further water rinsing' : 'Dextran physisorbed thin film (repeated PBS/water rinsing)'"}}
}
}
